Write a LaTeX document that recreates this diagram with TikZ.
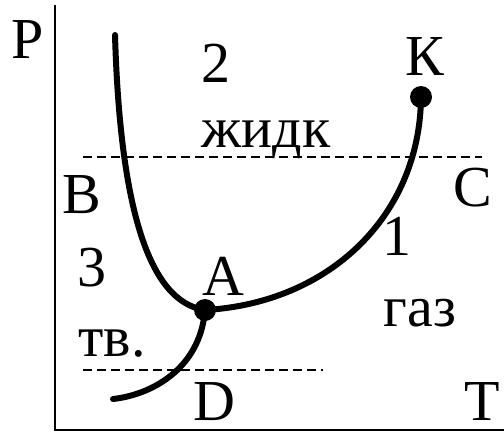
\documentclass[tikz,border=0pt]{standalone}
\usepackage{fontspec}
\setmainfont{Liberation Serif}
\usetikzlibrary{positioning}
\tikzset{lbl/.style={font=\fontsize{58}{60}\selectfont,inner sep=0pt,anchor=base},curve/.style={line width=6pt,line cap=round},iso/.style={line width=2pt,dash pattern=on 9pt off 5pt},dot/.style={circle,fill=black,minimum size=22pt,inner sep=0pt},axis/.style={line width=2.2pt}}

\begin{document}
\begin{tikzpicture}[x=1pt,y=-1pt]
        \useasboundingbox (0,0) rectangle (504,432);
        \coordinate (ptop) at (55,5);
        \coordinate (orig) at (55,430);
        \coordinate (tend) at (504,430);
        \draw[axis] (ptop) -- (orig) -- (tend);
        % isobars
        \coordinate (b0) at (83,157);
        \coordinate (c0) at (482,157);
        \coordinate (d0) at (83,370);
        \coordinate (d1) at (323,370);
        \draw[iso] (b0) -- (c0);
        \draw[iso] (d0) -- (d1);
        % phase curves
        \node[dot] (A) at (205,310){};
        \node[dot] (K) at (421,97){};
        \coordinate (melt) at (115,35);
        \coordinate (subl) at (113,399);
        \draw[curve] (melt) .. controls (120,205) and (148,302) .. (A.center);
        \draw[curve] (A.center) .. controls (330,303) and (420,215) .. (K.center);
        \draw[curve] (A.center) .. controls (200,370) and (150,395) .. (subl);
        % labels
        \node[lbl] (lP) at (28,58){P};
        \node[lbl] (lT) at (482,420){T};
        \node[lbl] (l2) at (216,82){2};
        \node[lbl] (liq) at (266,147){жидк};
        \node[lbl] (lK) at (425,75){К};
        \node[lbl] (lB) at (82,213){B};
        \node[lbl] (lC) at (473,206){C};
        \node[lbl] (l3) at (92,286){3};
        \node[lbl] (lA) at (223,295){A};
        \node[lbl] (l1) at (397,255){1};
        \node[lbl] (gas) at (420,326){газ};
        \node[lbl] (sol) at (112,356){тв.};
        \node[lbl] (lD) at (214,420){D};
      \end{tikzpicture}
\end{document}
